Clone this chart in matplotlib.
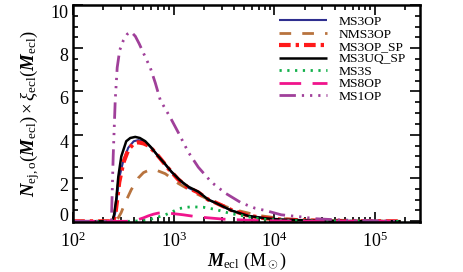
import numpy as np
import matplotlib
matplotlib.use("Agg")
import matplotlib.pyplot as plt
from matplotlib.ticker import MultipleLocator, LogLocator

# fonts (Times-like, bold italic M and N)
plt.rcParams.update({
    "font.family": "Liberation Serif",
    "mathtext.fontset": "custom",
    "mathtext.rm": "Liberation Serif",
    "mathtext.it": "Liberation Serif:italic",
    "mathtext.bf": "Liberation Serif:bold:italic",
    "lines.scale_dashes": False,
})

# data
m_ms3op = [100, 250, 262, 274, 287, 315, 353, 400, 444, 500, 558, 650, 750, 900, 1100, 1394, 1754, 2205, 2589, 3735, 5508, 8130, 11740, 25600, 55000, 180000]
n_ms3op = [0, 0, 0.4, 1.2, 2.0, 2.8, 3.4, 3.7, 3.75, 3.7, 3.55, 3.2, 2.85, 2.4, 1.95, 1.55, 1.32, 1.0, 0.85, 0.5, 0.25, 0.14, 0.08, 0.03, 0.01, 0]

m_nms3op = [100, 262, 280, 300, 329, 378, 444, 500, 558, 655, 823, 1109, 1637, 2473, 3911, 6929, 11740, 17330, 37000, 180000]
n_nms3op = [0, 0, 0.15, 0.4, 0.86, 1.46, 2.0, 2.25, 2.35, 2.38, 2.2, 1.75, 1.3, 0.9, 0.55, 0.27, 0.13, 0.08, 0.03, 0]

m_ms3op_sp = [100, 250, 262, 274, 287, 315, 353, 400, 444, 500, 558, 650, 750, 900, 1100, 1394, 1754, 2205, 2589, 3735, 5508, 8130, 11740, 25600, 55000, 180000]
n_ms3op_sp = [0, 0, 0.3, 1.0, 1.8, 2.7, 3.3, 3.6, 3.65, 3.6, 3.5, 3.2, 2.85, 2.4, 1.95, 1.55, 1.33, 1.0, 0.87, 0.52, 0.26, 0.14, 0.08, 0.03, 0.01, 0]

m_ms3uq_sp = [100, 245, 255, 268, 281, 301, 337, 370, 414, 460, 521, 600, 702, 820, 945, 1150, 1394, 1754, 2205, 2589, 3735, 5508, 8130, 11740, 25600, 55000, 180000]
n_ms3uq_sp = [0, 0, 0.3, 1.0, 2.06, 3.0, 3.7, 3.85, 3.9, 3.85, 3.7, 3.4, 3.0, 2.65, 2.3, 1.9, 1.6, 1.37, 1.0, 0.86, 0.5, 0.25, 0.14, 0.08, 0.03, 0.01, 0]

m_ms3s = [100, 378, 450, 558, 702, 823, 950, 1109, 1300, 1494, 1968, 2589, 3735, 4697, 5508, 8130, 17330, 55000, 180000]
n_ms3s = [0, 0, 0.02, 0.06, 0.2, 0.3, 0.42, 0.58, 0.64, 0.67, 0.65, 0.55, 0.35, 0.27, 0.2, 0.09, 0.03, 0.01, 0]

m_ms8op = [100, 340, 400, 444, 500, 558, 630, 702, 790, 882, 1050, 1244, 1754, 3112, 6929, 17330, 180000]
n_ms8op = [0, 0, 0.03, 0.08, 0.16, 0.25, 0.33, 0.38, 0.39, 0.38, 0.34, 0.3, 0.2, 0.1, 0.03, 0.01, 0]

m_ms1op = [100, 240, 250, 262, 274, 290, 315, 345, 378, 415, 454, 520, 584, 655, 735, 823, 923, 1110, 1394, 1754, 2380, 3260, 4700, 6470, 8130, 11700, 17300, 25600, 37000, 55000, 116000, 180000]
n_ms1op = [0, 0, 3.0, 5.6, 7.1, 7.9, 8.35, 8.65, 8.75, 8.55, 8.2, 7.6, 7.1, 6.4, 5.6, 5.2, 4.8, 4.1, 3.2, 2.5, 1.8, 1.3, 0.85, 0.6, 0.5, 0.3, 0.22, 0.12, 0.08, 0.05, 0.02, 0]

y_ticks = [0, 2, 4, 6, 8, 10]

series = [
    ("MS3OP", m_ms3op, n_ms3op, "#2e2e8f", 1.5, "-"),
    ("NMS3OP", m_nms3op, n_nms3op, "#b8733e", 2.0, (0, (8.4, 8.0))),
    ("MS3OP_SP", m_ms3op_sp, n_ms3op_sp, "#ff1a1a", 3.0, (0, (8.4, 3.6, 2.4, 3.6))),
    ("MS3UQ_SP", m_ms3uq_sp, n_ms3uq_sp, "black", 1.8, "-"),
    ("MS3S", m_ms3s, n_ms3s, "#12b04a", 2.0, (0, (1.6, 4.0))),
    ("MS8OP", m_ms8op, n_ms8op, "#f0148c", 2.0, (0, (15.6, 8.2))),
    ("MS1OP", m_ms1op, n_ms1op, "#a0409a", 2.0, (0, (11.8, 4.3, 1.6, 4.3, 1.6, 4.3, 1.6, 4.3))),
]

fig = plt.figure(figsize=(4.63, 2.72), dpi=100)
ax = fig.add_axes([0.158, 0.184, 0.749, 0.798])

for name, m, n, col, lw, ls in series:
    ax.plot(m, n, color=col, lw=lw, linestyle=ls, dash_capstyle="butt",
            solid_capstyle="butt", label=name)

ax.set_xscale("log")
ax.set_xlim(100, 2.8e5)
ax.set_ylim(-0.03, 10)

ax.set_yticks(y_ticks)
ax.yaxis.set_minor_locator(MultipleLocator(0.5))
ax.xaxis.set_major_locator(LogLocator(base=10))
ax.xaxis.set_minor_locator(LogLocator(base=10, subs=np.arange(2, 10)))

ax.tick_params(which="both", direction="in", top=True, right=True, labelsize=13, width=1.2)
ax.tick_params(which="major", length=7)
ax.tick_params(axis="x", which="major", pad=7)
ax.tick_params(which="minor", length=3.5)
# IDL-like placement: digits hang below their tick, except the zero
for i, lbl in enumerate(ax.get_yticklabels()):
    lbl.set_verticalalignment("baseline" if i == 0 else "top")
for s in ax.spines.values():
    s.set_linewidth(1.8)

ax.set_xlabel(r"$\mathbf{M}_{\rm ecl}$ (M$_\odot$)", fontsize=13, labelpad=0)
ax.set_ylabel(r"$\mathbf{N}_{\rm ej,o}(\mathbf{M}_{\rm ecl})\times\xi_{\rm ecl}(\mathbf{M}_{\rm ecl})$",
              fontsize=13.5, labelpad=6)

ax.legend(loc="upper right", frameon=False, fontsize=9.7, handlelength=3.5,
          handletextpad=0.9, labelspacing=0.0, borderaxespad=0.0,
          bbox_to_anchor=(0.975, 0.975))

fig.savefig("out.png", dpi=100)
